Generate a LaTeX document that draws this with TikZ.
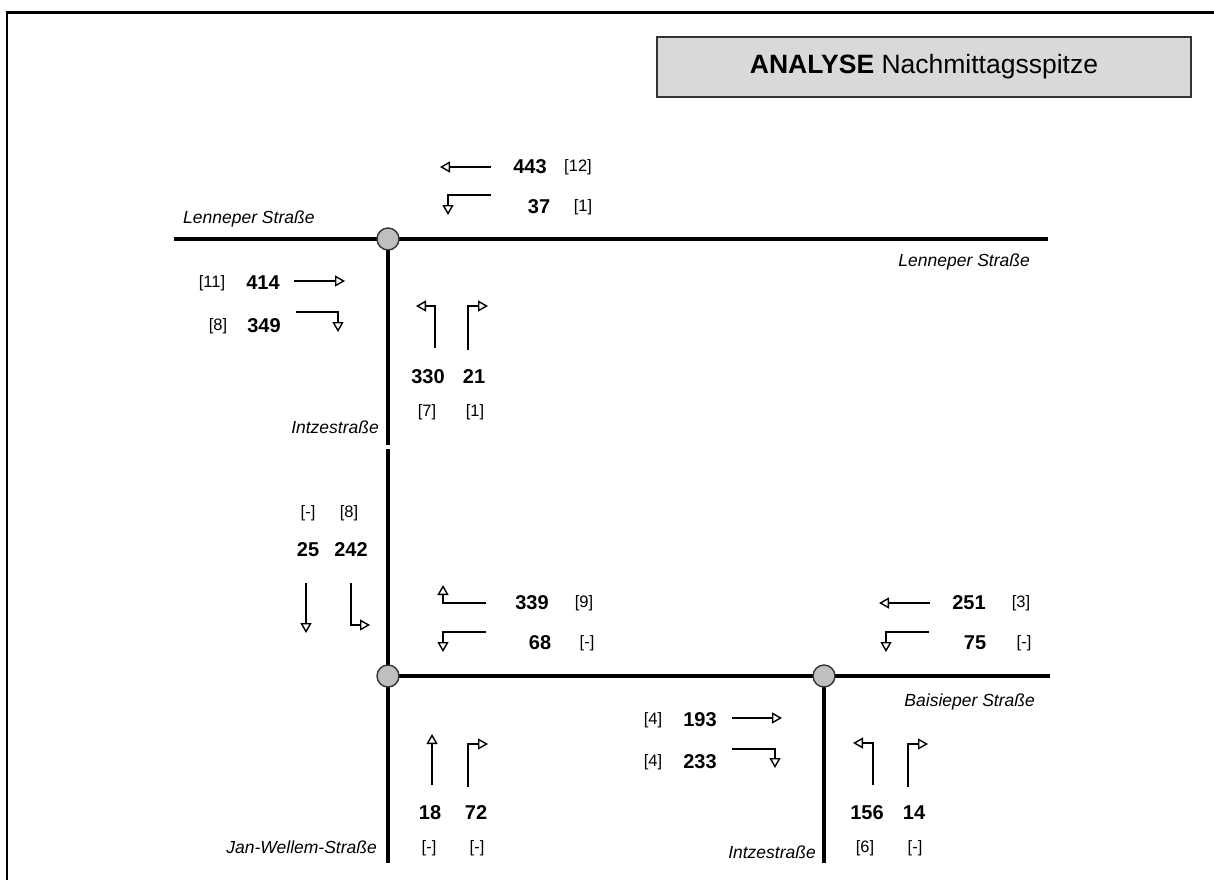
\documentclass[tikz,border=0pt]{standalone}
\usepackage{fontspec}
\setmainfont{Liberation Sans}
\usetikzlibrary{arrows.meta}

\begin{document}
\begin{tikzpicture}[x=1pt, y=-1pt,
    road/.style={line width=3.2pt},
    mov/.style={line width=1.4pt, -{Triangle[open, length=10pt, width=11pt]}},
    junction/.style={circle, draw=black!80, line width=1.4pt, fill=gray!50, minimum size=22pt, inner sep=0pt},
    vol/.style={inner sep=0pt, font=\fontsize{20}{24}\selectfont\bfseries},
    cnt/.style={inner sep=0pt, font=\fontsize{16.5}{20}\selectfont},
    street/.style={inner sep=0pt, anchor=base east, font=\fontsize{17.5}{21}\selectfont\itshape},
    titlebox/.style={draw=black!80, line width=1.5pt, fill=gray!30, minimum width=534pt, minimum height=60pt, font=\fontsize{26.5}{30}\selectfont}]
    \useasboundingbox (0,0) rectangle (1214,880);

    % Frame
    \draw[line width=2.6pt] (7,880) -- (7,12.5) -- (1214,12.5);
    \node[titlebox] (title) at (924,67) {\textbf{ANALYSE} Nachmittagsspitze};

    % Junctions
    \coordinate (J1) at (388,239); % Lenneper / Intze
    \coordinate (J2) at (388,676); % Intze / Jan-Wellem
    \coordinate (J3) at (824,676); % Baisieper / Intze

    % Road ends
    \coordinate (LW) at (174,239);
    \coordinate (LE) at (1048,239);
    \coordinate (IA) at (388,445);
    \coordinate (IB) at (388,449);
    \coordinate (JS) at (388,863);
    \coordinate (BE) at (1050,676);
    \coordinate (IS) at (824,863);

    \draw[road] (LW) -- (J1) -- (LE);
    \draw[road] (J1) -- (IA);
    \draw[road] (IB) -- (J2) -- (JS);
    \draw[road] (J2) -- (J3) -- (BE);
    \draw[road] (J3) -- (IS);

    \node[junction] (J1c) at (J1) {};
    \node[junction] (J2c) at (J2) {};
    \node[junction] (J3c) at (J3) {};

    % Street names
    \node[street, anchor=base west] (sLW) at (183,223) {Lenneper Straße};
    \node[street] (sLE) at (1030,266) {Lenneper Straße};
    \node[street] (sIN) at (379,433) {Intzestraße};
    \node[street] (sJW) at (377,853) {Jan-Wellem-Straße};
    \node[street] (sBE) at (1035,706) {Baisieper Straße};
    \node[street] (sIS) at (816,858) {Intzestraße};

    % Upper junction, from east
    \draw[mov] (491,167) -- (440,167);
    \node[vol] (v443) at (530,167) {443};
    \node[cnt] (c443) at (578,167) {[12]};
    \draw[mov] (491,195) -| (448,215);
    \node[vol] (v37) at (539,207) {37};
    \node[cnt] (c37) at (583,207) {[1]};

    % Upper junction, from west
    \node[cnt] (c414) at (212,283) {[11]};
    \node[vol] (v414) at (263,283) {414};
    \draw[mov] (294,281) -- (345,281);
    \node[cnt] (c349) at (218,326) {[8]};
    \node[vol] (v349) at (264,326) {349};
    \draw[mov] (296,312) -| (338,332);

    % Upper junction, from south
    \draw[mov] (435,348) |- (416,306);
    \draw[mov] (468,350) |- (488,306);
    \node[vol] (v330) at (428,377) {330};
    \node[vol] (v21) at (474,377) {21};
    \node[cnt] (c330) at (427,412) {[7]};
    \node[cnt] (c21) at (475,412) {[1]};

    % Lower junction, from north
    \node[cnt] (c25) at (308,513) {[-]};
    \node[cnt] (c242) at (349,513) {[8]};
    \node[vol] (v25) at (308,550) {25};
    \node[vol] (v242) at (351,550) {242};
    \draw[mov] (306,583) -- (306,633);
    \draw[mov] (351,583) |- (370,625);

    % Lower junction, from east
    \draw[mov] (486,603) -| (443,585);
    \node[vol] (v339) at (532,603) {339};
    \node[cnt] (c339) at (584,603) {[9]};
    \draw[mov] (486,632) -| (443,652);
    \node[vol] (v68) at (540,643) {68};
    \node[cnt] (c68) at (587,643) {[-]};

    % Lower junction, from south
    \draw[mov] (432,785) -- (432,734);
    \draw[mov] (468,787) |- (488,744);
    \node[vol] (v18) at (430,813) {18};
    \node[vol] (v72) at (476,813) {72};
    \node[cnt] (c18) at (429,848) {[-]};
    \node[cnt] (c72) at (477,848) {[-]};

    % Baisieper junction, from east
    \draw[mov] (930,603) -- (879,603);
    \node[vol] (v251) at (969,603) {251};
    \node[cnt] (c251) at (1021,603) {[3]};
    \draw[mov] (929,632) -| (886,652);
    \node[vol] (v75) at (975,643) {75};
    \node[cnt] (c75) at (1024,643) {[-]};

    % Baisieper junction, from west
    \node[cnt] (c193) at (653,720) {[4]};
    \node[vol] (v193) at (700,720) {193};
    \draw[mov] (732,718) -- (782,718);
    \node[cnt] (c233) at (653,762) {[4]};
    \node[vol] (v233) at (700,762) {233};
    \draw[mov] (732,749) -| (775,768);

    % Baisieper junction, from south
    \draw[mov] (873,785) |- (853,743);
    \draw[mov] (908,787) |- (928,744);
    \node[vol] (v156) at (867,813) {156};
    \node[vol] (v14) at (914,813) {14};
    \node[cnt] (c156) at (865,848) {[6]};
    \node[cnt] (c14) at (915,848) {[-]};
\end{tikzpicture}
\end{document}
